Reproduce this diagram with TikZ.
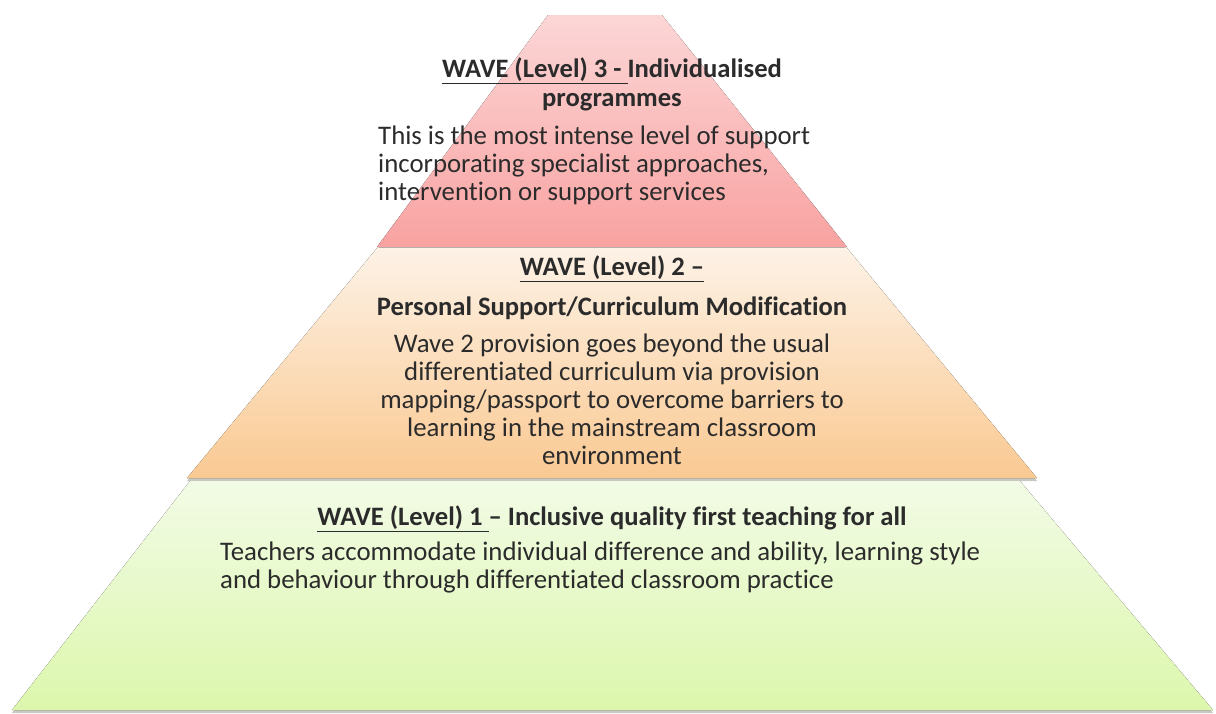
\documentclass[tikz,border=0pt]{standalone}
\usepackage{fontspec}
\setmainfont{Carlito}[Ligatures=NoCommon]
\usetikzlibrary{calc}

\definecolor{inkc}{HTML}{2B2B2B}
\definecolor{redtop}{HTML}{FCD6D6}
\definecolor{redbot}{HTML}{F8A2A1}
\definecolor{orgtop}{HTML}{FDF2E6}
\definecolor{orgbot}{HTML}{FAC992}
\definecolor{grntop}{HTML}{F2FBE6}
\definecolor{grnbot}{HTML}{DCF7AC}
\definecolor{shadec}{HTML}{9A9A8C}

\tikzset{
  tier/.style={draw=none},
  tiershadow/.style={fill=shadec, fill opacity=0.55},
  headtext/.style={inner sep=0pt, text=inkc, align=center,
    font=\fontsize{26.6}{28.5}\selectfont\bfseries},
  bodytext/.style={inner sep=0pt, text=inkc,
    font=\fontsize{26.8}{28}\selectfont}
}

\begin{document}
\begin{tikzpicture}[x=1pt,y=-1pt]
\useasboundingbox (0,0) rectangle (1216,713);

% corner points of the three tiers
\coordinate (a1) at (548,15);  \coordinate (a2) at (662,15);
\coordinate (a3) at (847,247); \coordinate (a4) at (377,247);
\coordinate (b1) at (377,248); \coordinate (b2) at (847,248);
\coordinate (b3) at (1037,478);\coordinate (b4) at (187,478);
\coordinate (c1) at (190,481); \coordinate (c2) at (1020,481);
\coordinate (c3) at (1213,710);\coordinate (c4) at (12,710);

% soft shadows under each tier
\fill[tiershadow] ($(c1)+(0,3)$) -- ($(c2)+(0,3)$) -- ($(c3)+(0,3)$) -- ($(c4)+(0,3)$) -- cycle;
\fill[tiershadow] ($(b1)+(0,3)$) -- ($(b2)+(0,3)$) -- ($(b3)+(0,3)$) -- ($(b4)+(0,3)$) -- cycle;
\fill[tiershadow] ($(a1)+(0,3)$) -- ($(a2)+(0,3)$) -- ($(a3)+(0,3)$) -- ($(a4)+(0,3)$) -- cycle;

% tiers
\fill[tier, top color=grntop, bottom color=grnbot] (c1) -- (c2) -- (c3) -- (c4) -- cycle;
\fill[tier, top color=orgtop, bottom color=orgbot] (b1) -- (b2) -- (b3) -- (b4) -- cycle;
\fill[tier, top color=redtop, bottom color=redbot] (a1) -- (a2) -- (a3) -- (a4) -- cycle;

% wave 3
\node[headtext, anchor=north] (h3) at (612,58)
  {\underline{WAVE (Level) 3 - }Individualised\\programmes};
\node[bodytext, anchor=north west, align=left] (t3) at (378,126)
  {This is the most intense level of support\\
   incorporating specialist approaches,\\
   intervention or support services};

% wave 2
\node[headtext, anchor=north] (h2) at (612,256)
  {\underline{WAVE (Level) 2 –}\\[11pt]Personal Support/Curriculum Modification};
\node[bodytext, anchor=north, align=center] (t2) at (612,334)
  {Wave 2 provision goes beyond the usual\\
   differentiated curriculum via provision\\
   mapping/passport to overcome barriers to\\
   learning in the mainstream classroom\\
   environment};

% wave 1
\node[headtext, anchor=north] (h1) at (612,506)
  {\underline{WAVE (Level) 1 }– Inclusive quality first teaching for all};
\node[bodytext, anchor=north west, align=left] (t1) at (220,542)
  {Teachers accommodate individual difference and ability, learning style\\
   and behaviour through differentiated classroom practice};
\end{tikzpicture}
\end{document}
